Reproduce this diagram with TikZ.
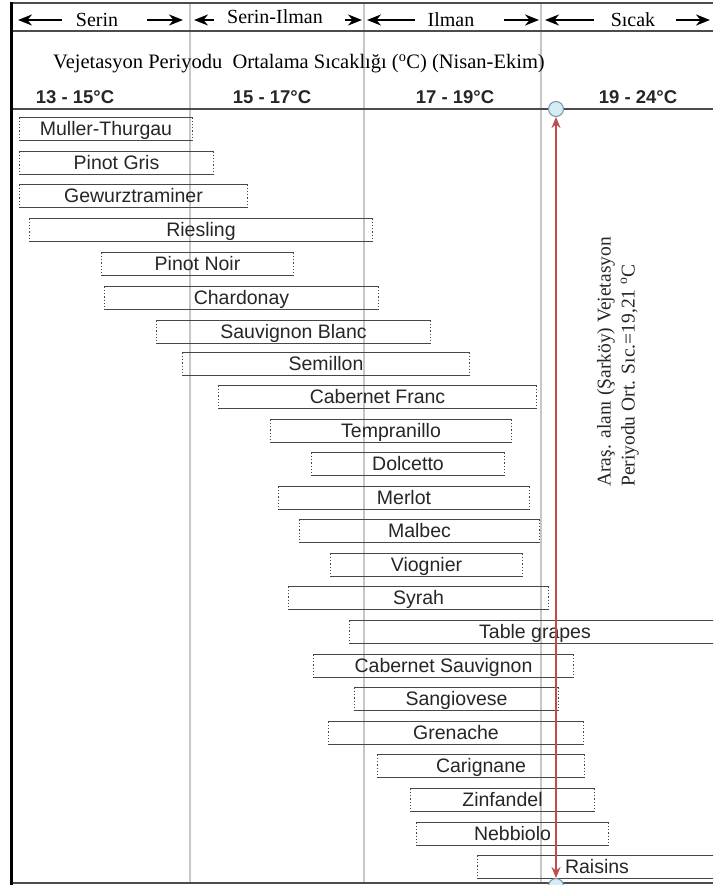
\documentclass[tikz,border=0pt]{standalone}
\usepackage{fontspec}
\setmainfont{Liberation Serif}
\setsansfont{Liberation Sans}
\usetikzlibrary{
    arrows.meta,
    calc,
    positioning,
}
\colorlet{GridGray}{black!22}
\colorlet{RuleGray}{black!70}
\colorlet{BarEdge}{black!72}
\definecolor{MyRed}{RGB}{190,78,76}
\definecolor{MyIce}{RGB}{214,236,244}
\definecolor{MyRim}{RGB}{120,150,165}
\tikzset{
    >=Stealth
}

\begin{document}
\begin{tikzpicture}[
    x=1pt,y=-1pt,
    bar/.style={minimum height=23pt,inner sep=0pt,text height=14pt,text depth=1pt,
        font=\fontsize{19.5}{22}\sffamily,text=black!85,
        append after command={
            (\tikzlastnode.north west) edge[barh] (\tikzlastnode.north east)
            (\tikzlastnode.south west) edge[barh] (\tikzlastnode.south east)
            (\tikzlastnode.north west) edge[barv] (\tikzlastnode.south west)
            (\tikzlastnode.north east) edge[barv] (\tikzlastnode.south east)}},
    barh/.style={draw=BarEdge,line width=1.3pt},
    barv/.style={draw=BarEdge,line width=1.3pt,dotted},
    hdrlbl/.style={inner sep=0pt,font=\fontsize{20}{22}\selectfont},
    hdr/.style={-{Stealth[length=14pt,width=11pt]},line width=2pt},
    templbl/.style={inner sep=0pt,font=\fontsize{18.5}{20}\sffamily\bfseries,text=black!85},
    grid/.style={draw=GridGray,line width=1.6pt},
    rule/.style={draw=RuleGray,line width=2pt},
    pin/.style={circle,draw=MyRim,fill=MyIce,line width=1pt,minimum size=15pt,inner sep=0pt},
    redarr/.style={<->,>={Stealth[length=11pt,width=9pt]},draw=MyRed,line width=2.5pt}
    ]
    \useasboundingbox (0,0) rectangle (713,885);
    \fill[white] (0,0) rectangle (713,885);
    \clip (0,0) rectangle (713,885);

    % zone limits
    \coordinate (z0) at (10,20);
    \coordinate (z1) at (190,20);
    \coordinate (z2) at (364,20);
    \coordinate (z3) at (541,20);
    \coordinate (z4) at (713,20);

    \draw[grid] (190,3) -- (190,883);
    \draw[grid] (364,3) -- (364,883);
    \draw[grid] (541,3) -- (541,883);

    \draw[rule] (10,3) -- (713,3);
    \draw[rule] (10,31) -- (713,31);
    \draw[rule] (10,109) -- (713,109);
    \draw[rule,line width=2.5pt] (10,883) -- (713,883);
    \draw[line width=3pt] (11,2) -- (11,885);

    % zones
    \node[hdrlbl] (serin) at (97,20) {Serin};
    \node[hdrlbl,yshift=3pt] (serilm) at (275,20) {Serin-Ilman};
    \node[hdrlbl] (ilman) at (451,20) {Ilman};
    \node[hdrlbl] (sicak) at (633,20) {Sıcak};

    \draw[hdr,shorten <=14pt,shorten >=8pt] (serin.west) -- (z0);
    \draw[hdr,shorten <=29pt,shorten >=7pt] (serin.east) -- (z1);
    \draw[hdr,shorten <=13pt,shorten >=4pt] (serilm.west |- z1) -- (z1);
    \draw[hdr,shorten <=22pt,shorten >=2pt] (serilm.east |- z2) -- (z2);
    \draw[hdr,shorten <=12pt,shorten >=3pt] (ilman.west) -- (z2);
    \draw[hdr,shorten <=29pt,shorten >=2pt] (ilman.east) -- (z3);
    \draw[hdr,shorten <=17pt,shorten >=4pt] (sicak.west) -- (z3);
    \draw[hdr,shorten <=21pt,shorten >=3pt] (sicak.east) -- (z4);

    \node[hdrlbl,font=\fontsize{20.5}{22}\selectfont] (title) at (299,64) {Vejetasyon Periyodu\ \ Ortalama Sıcaklığı (\textsuperscript{o}C) (Nisan-Ekim)};

    \node[templbl] (t1) at (75,97) {13 - 15°C};
    \node[templbl] (t2) at (272,97) {15 - 17°C};
    \node[templbl] (t3) at (455,97) {17 - 19°C};
    \node[templbl] (t4) at (638,97) {19 - 24°C};

    % grape varieties
    \node[bar,minimum width=172pt] (muller) at (106,129) {Muller-Thurgau};
    \node[bar,minimum width=193pt] (pinotgris) at (116.5,163) {Pinot Gris};
    \node[bar,minimum width=227pt] (gewurz) at (133.5,196) {Gewurztraminer};
    \node[bar,minimum width=342pt] (riesling) at (201,230) {Riesling};
    \node[bar,minimum width=191pt] (pinotnoir) at (197.5,264) {Pinot Noir};
    \node[bar,minimum width=273pt] (chardonay) at (241.5,298) {Chardonay};
    \node[bar,minimum width=273pt] (sauvblanc) at (293.5,332) {Sauvignon Blanc};
    \node[bar,minimum width=286pt] (semillon) at (326,364) {Semillon};
    \node[bar,minimum width=317pt] (cabfranc) at (377.5,397) {Cabernet Franc};
    \node[bar,minimum width=240pt] (tempranillo) at (391,431) {Tempranillo};
    \node[bar,minimum width=192pt] (dolcetto) at (408,464) {Dolcetto};
    \node[bar,minimum width=250pt] (merlot) at (404,498) {Merlot};
    \node[bar,minimum width=239pt] (malbec) at (419.5,531) {Malbec};
    \node[bar,minimum width=191pt] (viognier) at (426.5,565) {Viognier};
    \node[bar,minimum width=259pt] (syrah) at (418.5,598) {Syrah};
    \node[bar,minimum width=370pt] (tablegr) at (535,632) {Table grapes};
    \node[bar,minimum width=259pt] (cabsauv) at (443.5,666) {Cabernet Sauvignon};
    \node[bar,minimum width=203pt] (sangiovese) at (456.5,699) {Sangiovese};
    \node[bar,minimum width=254pt] (grenache) at (456,733) {Grenache};
    \node[bar,minimum width=206pt] (carignane) at (481,766) {Carignane};
    \node[bar,minimum width=183pt] (zinfandel) at (502.5,800) {Zinfandel};
    \node[bar,minimum width=191pt] (nebbiolo) at (512.5,834) {Nebbiolo};
    \node[bar,minimum width=238pt] (raisins) at (597,867) {Raisins};

    % study area
    \node[pin] (ctop) at (556,109) {};
    \node[pin] (cbot) at (556,886) {};
    \draw[redarr] (ctop) -- (cbot);

    \node[rotate=90,anchor=north west,align=left,inner sep=0pt,text=black!85,
        font=\fontsize{19.5}{24}\selectfont] (study) at (597,487)
        {Araş. alanı (Şarköy) Vejetasyon\\Periyodu Ort. Sıc.=19,21 \textsuperscript{o}C};
\end{tikzpicture}
\end{document}
